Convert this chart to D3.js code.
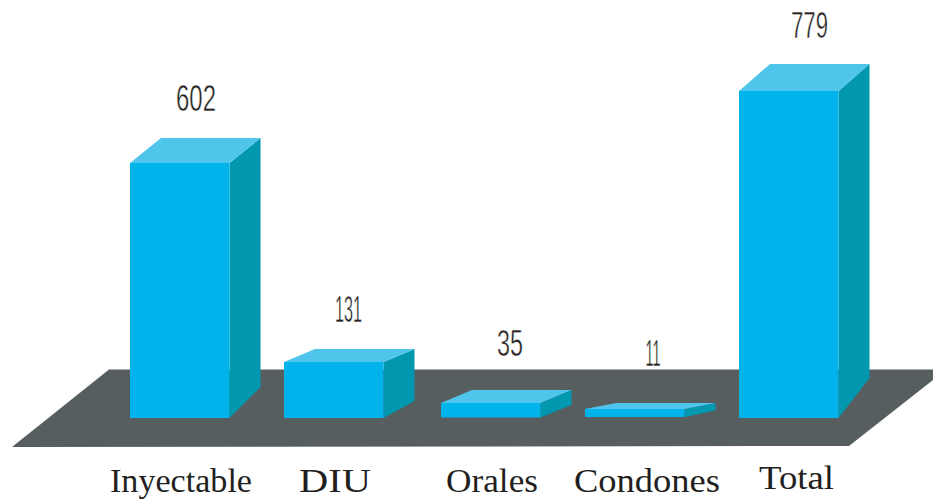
<!DOCTYPE html>
<html>
<head>
<meta charset="utf-8">
<script src="https://cdn.jsdelivr.net/npm/d3@7"></script>
<style>
html,body{margin:0;padding:0;background:#fff;overflow:hidden}
svg{display:block}
</style>
</head>
<body>
<svg id="c" width="933" height="499"></svg>
<script>
const categories = ["Inyectable", "DIU", "Orales", "Condones", "Total"];
const values = [602, 131, 35, 11, 779];

const baseY = [418, 418, 417.5, 417, 418];
const svg = d3.select("#c");

// Layout scales calibrated to the picture
const xLeft = d3.scaleOrdinal().domain(categories).range([130, 284, 441, 585, 739]);
const barW = 99.5;
const h = d3.scaleLinear().domain([0, 11, 35, 131, 602, 779]).range([0, 8, 14.5, 56, 255, 327]);
const depthTop = d3.scaleLinear().domain([11, 35, 131, 602, 779]).range([6, 13, 13, 25, 27]);
const depthBot = d3.scaleLinear().domain([11, 35, 131, 602, 779]).range([6.5, 12.5, 17, 31, 40]);
const dx = 31;

const valueX = d3.scaleOrdinal().domain(categories).range([196, 348.5, 510, 653, 809.5]);
const valueBase = d3.scaleOrdinal().domain(categories).range([111, 322, 356, 366, 38]);
const valueW = d3.scaleOrdinal().domain(categories).range([40, 27, 26, 15, 37]);
const labelX = d3.scaleOrdinal().domain(categories).range([110, 299, 446, 574, 759]);
const labelBase = d3.scaleOrdinal().domain(categories).range([491.5, 492, 491.5, 491.5, 489]);
const labelW = d3.scaleOrdinal().domain(categories).range([142, 72, 92, 146, 75]);

const line = d3.line();

// Floor
svg.append("path")
  .attr("d", line([[12, 447], [849, 446], [933, 380], [933, 369.5], [109, 369.5]]) + "Z")
  .attr("fill", "#575E60");

const rows = categories.map((c, i) => ({c, v: values[i], base: baseY[i]}));

const bars = svg.selectAll("g.bar").data(rows).join("g").attr("class", "bar");

// Side
bars.append("path").attr("fill", "#0097AF").attr("d", d => {
  const r = xLeft(d.c) + barW, t = d.base - h(d.v);
  return line([[r, t], [r + dx, t - depthTop(d.v)], [r + dx, d.base - depthBot(d.v)], [r, d.base]]) + "Z";
});
// Top
bars.append("path").attr("fill", "#50C5EC").attr("d", d => {
  const l = xLeft(d.c), r = l + barW, t = d.base - h(d.v), k = depthTop(d.v);
  return line([[l, t], [l + dx, t - k], [r + dx, t - k], [r, t]]) + "Z";
});
// Front
bars.append("rect").attr("fill", "#00B3EA")
  .attr("x", d => xLeft(d.c)).attr("width", barW)
  .attr("y", d => d.base - h(d.v)).attr("height", d => h(d.v));

// Value labels
svg.selectAll("text.val").data(rows).join("text").attr("class", "val")
  .attr("x", d => valueX(d.c)).attr("y", d => valueBase(d.c))
  .attr("text-anchor", "middle")
  .attr("font-family", "'Liberation Sans Narrow','Liberation Sans',sans-serif")
  .attr("font-size", 36).attr("fill", "#231F20")
  .attr("stroke", "#fff").attr("stroke-width", 0.5)
  .attr("textLength", d => valueW(d.c)).attr("lengthAdjust", "spacingAndGlyphs")
  .text(d => d.v);

// Category labels
svg.selectAll("text.cat").data(rows).join("text").attr("class", "cat")
  .attr("x", d => labelX(d.c)).attr("y", d => labelBase(d.c))
  .attr("font-family", "'Liberation Serif',serif")
  .attr("font-size", 34).attr("fill", "#231F20")
  .attr("textLength", d => labelW(d.c)).attr("lengthAdjust", "spacingAndGlyphs")
  .text(d => d.c);
</script>
</body>
</html>
